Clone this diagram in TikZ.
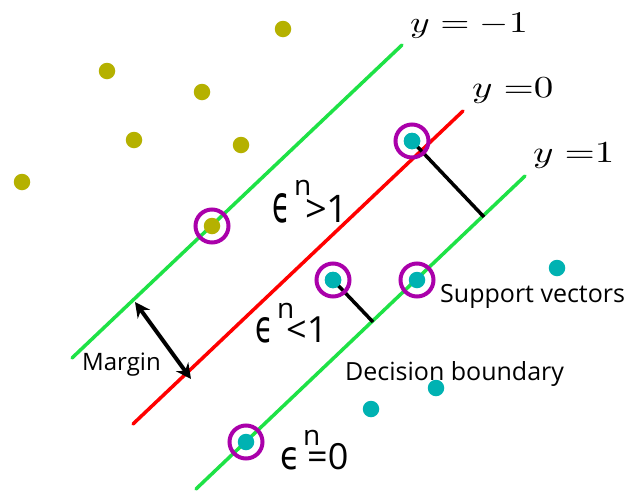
\documentclass[tikz,border=0pt]{standalone}
\usepackage{fontspec}
\setmainfont{Open Sans}
\newfontfamily\dvs{DejaVu Sans}
\usetikzlibrary{arrows.meta}
\definecolor{olivedot}{RGB}{181,177,0}
\definecolor{tealdot}{RGB}{0,178,178}
\definecolor{svpurple}{RGB}{170,0,170}
\definecolor{lgreen}{RGB}{30,226,70}
\newcommand\epsglyph[2]{\resizebox{#1}{#2}{\dvs ϵ}}
\begin{document}
\begin{tikzpicture}[x=1pt,y=-1pt,
  odot/.style={circle,fill=olivedot,inner sep=0pt,minimum size=16.5pt},
  tdot/.style={circle,fill=tealdot,inner sep=0pt,minimum size=16.5pt},
  svring/.style={circle,draw=svpurple,line width=4pt,inner sep=0pt,minimum size=33pt},
  hyper/.style={line width=3.5pt,line cap=round},
  perp/.style={line width=3.5pt,black},
  lbl/.style={inner sep=0pt,anchor=base west,font=\fontsize{25}{28}\selectfont},
  mlbl/.style={inner sep=0pt,anchor=base west},
  elbl/.style={inner sep=0pt,anchor=base west}]
\useasboundingbox (0,0) rectangle (629,493);
\fill[white] (0,0) rectangle (629,493);

% hyperplanes
\coordinate (gA1) at (72,358);  \coordinate (gA2) at (402,45);
\coordinate (r1) at (133,424);  \coordinate (r2) at (463,111);
\coordinate (gB1) at (196,489); \coordinate (gB2) at (525,176);
\draw[hyper,lgreen] (gA1) -- (gA2);
\draw[hyper,red] (r1) -- (r2);
\draw[hyper,lgreen] (gB1) -- (gB2);

% perpendicular distances
\coordinate (p1) at (484,217);
\coordinate (p2) at (373,322);
\node[tdot] (t1) at (412,141) {};
\node[tdot] (t2) at (333,280) {};
\draw[perp] (t1.center) -- (p1);
\draw[perp] (t2.center) -- (p2);

% class -1 points
\node[odot] (o1) at (283,29) {};
\node[odot] (o2) at (107,71) {};
\node[odot] (o3) at (202,92) {};
\node[odot] (o4) at (134,140) {};
\node[odot] (o5) at (241,145) {};
\node[odot] (o6) at (22,182) {};
\node[odot] (o7) at (212,226) {};

% class +1 points
\node[tdot] (t1b) at (412,141) {};
\node[tdot] (t2b) at (333,280) {};
\node[tdot] (t3) at (417,280) {};
\node[tdot] (t4) at (557,268) {};
\node[tdot] (t5) at (436,388) {};
\node[tdot] (t6) at (371,409) {};
\node[tdot] (t7) at (246,442) {};

% support vector rings
\node[svring] (s1) at (o7) {};
\node[svring] (s2) at (t1) {};
\node[svring] (s3) at (t2) {};
\node[svring] (s4) at (t3) {};
\node[svring] (s5) at (t7) {};

% margin arrow
\coordinate (m1) at (135,302);
\coordinate (m2) at (191,379);
\draw[line width=4pt,{Stealth[length=15pt,width=15pt]}-{Stealth[length=15pt,width=15pt]}] (m1) -- (m2);

% labels
\node[mlbl] (ym1) at (410,32) {\scalebox{3.75}[3.0]{$y = -1$}};
\node[mlbl] (y0) at (472,97) {\scalebox{3.9}[3.05]{$y\;{=}0$}};
\node[mlbl] (y1) at (533,162) {\scalebox{3.9}[3.05]{$y\;{=}1$}};

\node[lbl,font=\fontsize{24}{27}\selectfont] (marg) at (82,370) {Margin};
\node[lbl] (supp) at (440,302) {Support vectors};
\node[lbl] (dec) at (345,380) {Decision boundary};

\node[elbl] (e1) at (272,222) {\epsglyph{18pt}{29pt}\kern4pt\rlap{\raisebox{27pt}{\fontsize{28}{30}\selectfont n}}\kern11pt{\fontsize{38}{40}\selectfont >1}};
\node[elbl] (e2) at (255,342) {\epsglyph{18pt}{25pt}\kern4pt\rlap{\raisebox{24pt}{\fontsize{28}{30}\selectfont n}}\kern9pt{\fontsize{36}{40}\selectfont <1}};
\node[elbl] (e3) at (280,469) {\epsglyph{20pt}{22pt}\kern3pt\rlap{\raisebox{24pt}{\fontsize{28}{30}\selectfont n}}\kern4pt{\fontsize{36}{40}\selectfont =0}};
\end{tikzpicture}
\end{document}
